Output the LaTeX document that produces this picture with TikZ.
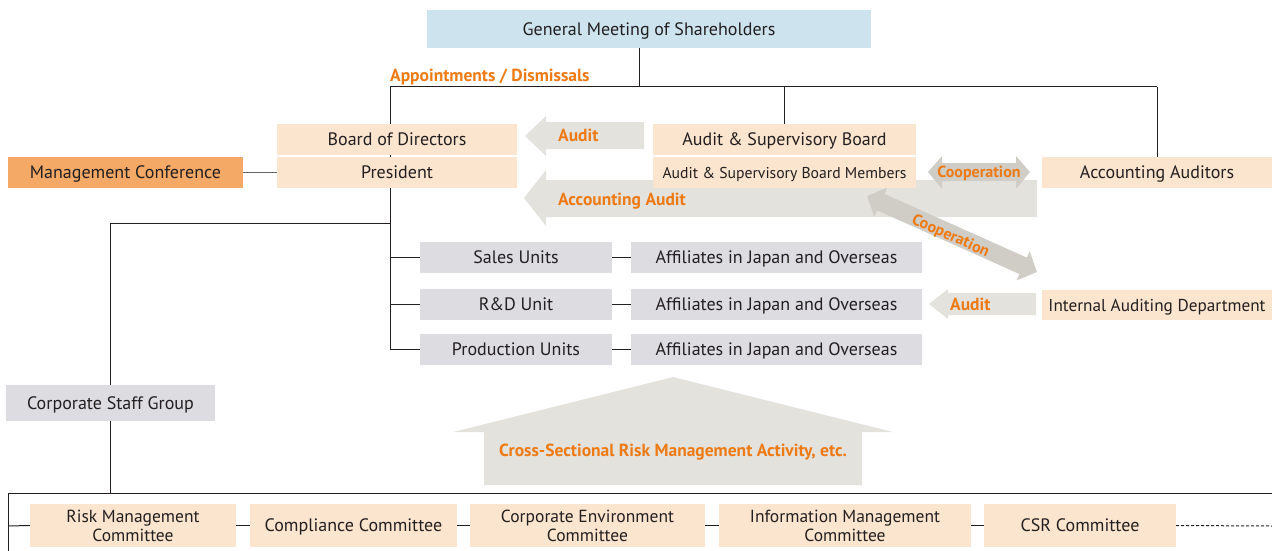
\documentclass[tikz,border=0pt]{standalone}
\usepackage{fontspec}
\setmainfont{PT Sans}
\usetikzlibrary{backgrounds}
\definecolor{peach}{HTML}{FBE5CF}
\definecolor{orangebox}{HTML}{F4A966}
\definecolor{bluebox}{HTML}{CDE4EF}
\definecolor{graybox}{HTML}{DDDCE1}
\definecolor{arrowgray}{HTML}{E3E2DD}
\definecolor{arrowdark}{HTML}{CFCDC6}
\definecolor{lbl}{HTML}{EE7A14}
\definecolor{ink}{HTML}{231F20}
\tikzset{
  bx/.style 2 args={inner sep=0pt, minimum width=#1, minimum height=#2, text=ink, font=\fontsize{18}{19}\selectfont, align=center, text height=12.6pt, text depth=0pt},
  pbox/.style 2 args={bx={#1}{#2}, fill=peach},
  gbox/.style 2 args={bx={#1}{#2}, fill=graybox},
  twoline/.style={font=\fontsize{17.5}{19}\selectfont, text height=31.3pt},
  lab/.style={text=lbl, font=\fontsize{17.5}{19}\selectfont\bfseries, inner sep=0pt, text height=12.3pt, text depth=0pt},
  ln/.style={draw=ink, line width=1pt},
}
\begin{document}
\begin{tikzpicture}[x=1pt,y=-1pt]
\useasboundingbox (0,0) rectangle (1272,551);
% fat arrows
\fill[arrowgray] (525,136) -- (546,116) -- (546,122) -- (644,122) -- (644,149) -- (546,149) -- (546,156) -- cycle;
\fill[arrowgray] (524,198) -- (546,170) -- (546,180) -- (1037,180) -- (1037,217) -- (546,217) -- (546,226) -- cycle;
\fill[arrowgray] (929,304) -- (948,289) -- (948,293) -- (1036,293) -- (1036,315) -- (948,315) -- (948,319) -- cycle;
\fill[arrowgray] (673,377) -- (893,432) -- (862,432) -- (862,485) -- (484,485) -- (484,432) -- (453,432) -- cycle;
\fill[arrowdark] (928,172) -- (942,156) -- (942,163) -- (1016,163) -- (1016,156) -- (1030,172) -- (1016,189) -- (1016,181) -- (942,181) -- (942,189) -- cycle;
\begin{scope}[shift={(952,234)}, rotate=-24.1]
\fill[arrowdark] (-93,0) -- (-78,-16) -- (-78,-9) -- (78,-9) -- (78,-16) -- (93,0) -- (78,16) -- (78,9) -- (-78,9) -- (-78,16) -- cycle;
\end{scope}
% nodes
\node[bx={444}{38}, fill=bluebox] (gm) at (649,29) {General Meeting of Shareholders};
\node[pbox={240}{31}] (bod) at (397,139.5) {Board of Directors};
\node[pbox={240}{31}] (pres) at (397,172.5) {President};
\node[bx={235}{31}, fill=orangebox] (mc) at (125.5,172.5) {Management Conference};
\node[pbox={263}{31}] (asb) at (784.5,139.5) {Audit \& Supervisory Board};
\node[pbox={263}{31}, font=\fontsize{15.7}{17}\selectfont, text height=11pt] (asbm) at (784.5,172.5) {Audit \& Supervisory Board Members};
\node[pbox={230}{31}] (aa) at (1157,172.5) {Accounting Auditors};
\node[pbox={230}{30}, font=\fontsize{17.2}{19}\selectfont, text height=12pt] (iad) at (1157,305) {Internal Auditing Department};
\node[gbox={192}{31}] (sales) at (516,257.5) {Sales Units};
\node[gbox={291}{31}] (aff1) at (776.5,257.5) {Affiliates in Japan and Overseas};
\node[gbox={192}{31}] (rd) at (516,304.5) {R\&D Unit};
\node[gbox={291}{31}] (aff2) at (776.5,304.5) {Affiliates in Japan and Overseas};
\node[gbox={192}{31}] (prod) at (516,349.5) {Production Units};
\node[gbox={291}{31}] (aff3) at (776.5,349.5) {Affiliates in Japan and Overseas};
\node[gbox={209}{36}] (csg) at (110.5,403) {Corporate Staff Group};
\node[pbox={206}{43}, twoline] (rm) at (133,525.5) {Risk Management\\Committee};
\node[pbox={207}{43}] (comp) at (353.5,525.5) {Compliance Committee};
\node[pbox={235}{43}, twoline] (ce) at (587.5,525.5) {Corporate Environment\\Committee};
\node[pbox={252}{43}, twoline] (im) at (845,525.5) {Information Management\\Committee};
\node[pbox={192}{43}] (csr) at (1080,525.5) {CSR Committee};
% labels
\node[lab, anchor=west] at (390,75) {Appointments / Dismissals};
\node[lab, anchor=west] at (558,135) {Audit};
\node[lab, anchor=west] at (558,199) {Accounting Audit};
\node[lab, font=\fontsize{16}{17}\selectfont\bfseries, text height=11.2pt] at (979,172) {Cooperation};
\node[lab, rotate=-24.1, font=\fontsize{16}{17}\selectfont\bfseries, text height=11.2pt] at (951,235) {Cooperation};
\node[lab, anchor=west] at (950,304) {Audit};
\node[lab] at (673,450) {Cross-Sectional Risk Management Activity, etc.};
% connector coordinates
\coordinate (gmfoot) at (639,48);
\coordinate (tl) at (390,87);
\coordinate (tm) at (639,87);
\coordinate (tasb) at (784,87);
\coordinate (tr) at (1157,87);
\coordinate (pfoot) at (390,188);
\coordinate (pend) at (390,349.5);
\coordinate (sj) at (390,223);
\coordinate (cj) at (110,223);
\coordinate (bl) at (8,493);
\coordinate (br) at (1272,493);
\coordinate (bb) at (8,551);
\coordinate (cl) at (8,526);
\coordinate (dend) at (1272,526);
\begin{scope}[on background layer]
\draw[ln] (gmfoot) -- (tm);
\draw[ln] (tl) -- (tr);
\draw[ln] (tl) -- (tl |- pres.north);
\draw[ln] (tasb) -- (tasb |- asb.north);
\draw[ln] (tr) -- (aa.north);
\draw[ln, draw=black!60] (mc.east) -- (pres.west);
\draw[ln] (pfoot) -- (pend);
\draw[ln] (pfoot |- sales.west) -- (sales.west);
\draw[ln] (pfoot |- rd.west) -- (rd.west);
\draw[ln] (pend) -- (prod.west);
\draw[ln] (sales.east) -- (aff1.west);
\draw[ln] (rd.east) -- (aff2.west);
\draw[ln] (prod.east) -- (aff3.west);
\draw[ln] (sj) -- (cj) -- (cj |- csg.north);
\draw[ln] (cj |- csg.south) -- (cj |- bl);
\draw[ln] (bl) -- (br);
\draw[ln] (bl) -- (bb);
\draw[ln] (cl) -- (rm.west);
\draw[ln] (rm.east) -- (comp.west);
\draw[ln] (comp.east) -- (ce.west);
\draw[ln] (ce.east) -- (im.west);
\draw[ln] (im.east) -- (csr.west);
\draw[ln, dash pattern=on 3pt off 2pt] (csr.east) -- (dend);
\end{scope}
\end{tikzpicture}
\end{document}
